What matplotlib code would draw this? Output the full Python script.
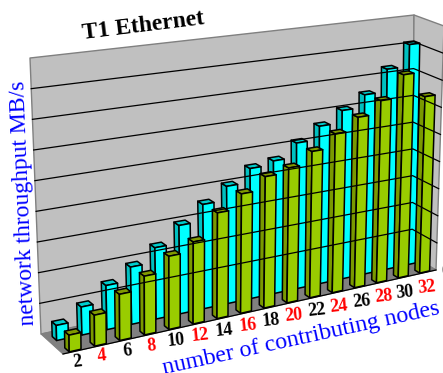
import matplotlib
matplotlib.use('Agg')
import matplotlib.pyplot as plt
from matplotlib.patches import Polygon

# valores, una linea de rejilla son 10 unidades
nodos = [2, 4, 6, 8, 10, 12, 14, 16, 18, 20, 22, 24, 26, 28, 30, 32]
serie_atras = [4.9, 9.2, 14.6, 19.1, 24.0, 30.0, 35.7, 40.5, 45.3, 46.6, 51.6, 56.3, 60.7, 65.2, 73.4, 81.4]
serie_frente = [5.4, 10.1, 15.2, 19.5, 24.5, 27.7, 36.0, 41.0, 45.5, 47.1, 51.5, 56.4, 61.0, 65.7, 73.9, 64.7]
niveles = [0, 10, 20, 30, 40, 50, 60, 70, 80, 90]
VALOR_MAX = 90
FUGA = 0.1  # las categorias se encogen hacia la derecha

# esquinas de la caja en pixeles (u: categoria, v: profundidad, w: altura)
ESQUINAS = {
    (0, 0, 0): (41, 334), (1, 0, 0): (412, 256),
    (0, 1, 0): (63, 354), (1, 1, 0): (436, 270),
    (0, 0, 1): (30, 58), (1, 0, 1): (414, 15),
    (0, 1, 1): (60, 75), (1, 1, 1): (444, 26),
}


def proyectar(t, v, w):
    u = t * (1 + FUGA) / (1 + FUGA * t)
    x = y = 0
    for (a, b, c), (px, py) in ESQUINAS.items():
        peso = (u if a else 1 - u) * (v if b else 1 - v) * (w if c else 1 - w)
        x += peso * px
        y += peso * py
    return x, y


def cara(ax, puntos, color, borde='black', lw=1.1):
    ax.add_patch(Polygon([proyectar(*p) for p in puntos], closed=True, facecolor=color,
                         edgecolor=borde, linewidth=lw, joinstyle='round'))


def barra(ax, u, v, valor, claro, oscuro, tapa):
    a = 0.0145
    p = 0.2
    w = valor / VALOR_MAX
    cara(ax, [(u - a, v - p, 0), (u - a, v, 0), (u - a, v, w), (u - a, v - p, w)], oscuro)
    cara(ax, [(u - a, v - p, w), (u + a, v - p, w), (u + a, v, w), (u - a, v, w)], tapa)
    cara(ax, [(u - a, v, 0), (u + a, v, 0), (u + a, v, w), (u - a, v, w)], claro)


fig = plt.figure(figsize=(4.43, 3.73), dpi=100)
ax = fig.add_axes([0, 0, 1, 1])
ax.set_xlim(0, 443)
ax.set_ylim(373, 0)
ax.axis('off')
plt.rcParams['font.family'] = 'Liberation Serif'

# paredes y suelo
gris = '#C0C0C0'
cara(ax, [(0, 0, 0), (1, 0, 0), (1, 0, 1), (0, 0, 1)], gris, '#808080', 1.0)
cara(ax, [(1, 0, 0), (1, 1, 0), (1, 1, 1), (1, 0, 1)], gris, '#808080', 1.0)
for n in niveles[1:-1]:
    w = n / VALOR_MAX
    xs, ys = zip(proyectar(0, 0, w), proyectar(1, 0, w), proyectar(1, 1, w))
    ax.plot(xs, ys, color='black', lw=0.9)
cara(ax, [(0, 0, 0), (1, 0, 0), (1, 1, 0), (0, 1, 0)], '#808080', '#808080', 0.8)
xs, ys = zip(proyectar(0, 1, 0), proyectar(1, 1, 0))
ax.plot(xs, ys, color='black', lw=0.9)

# barras, de derecha a izquierda para que tapen bien
n_cat = len(nodos)
for i in range(n_cat - 1, -1, -1):
    barra(ax, (i + 0.5) / n_cat, 0.4, serie_atras[i], '#00FFFF', '#00C0C0', '#00CCCC')
for i in range(n_cat - 1, -1, -1):
    barra(ax, (i + 0.5) / n_cat, 0.97, serie_frente[i], '#99CC00', '#7A9900', '#809900')

# etiquetas del eje x
for i, nodo in enumerate(nodos):
    t = (i + 0.5) / n_cat
    x, y = proyectar(t, 1, 0)
    ax.text(x + 1, y + 10.5 + 5 * t, str(nodo), color='red' if i % 2 else 'black', fontsize=13,
            fontweight='bold', ha='center', va='center', rotation=6)

# eje de valores, casi todo queda fuera de la imagen
for i, n in enumerate(niveles[:4]):
    x, y = proyectar(1, 1, n / VALOR_MAX)
    ax.text(x + 5, y + 1, str(n), color='red' if i % 2 else 'black', fontsize=13,
            fontweight='bold', ha='left', va='center', clip_on=True)

ax.text(143, 26, 'T1 Ethernet', fontsize=17, fontweight='bold', color='black',
        ha='center', va='center', rotation=7)
ax.text(24, 203, 'network throughput MB/s', fontsize=17, color='#0000FF',
        ha='center', va='center', rotation=92.3)
ax.text(301, 339, 'number of contributing nodes', fontsize=17.2, color='#0000FF',
        ha='center', va='center', rotation=12.3)

fig.savefig('out.png', dpi=100)
